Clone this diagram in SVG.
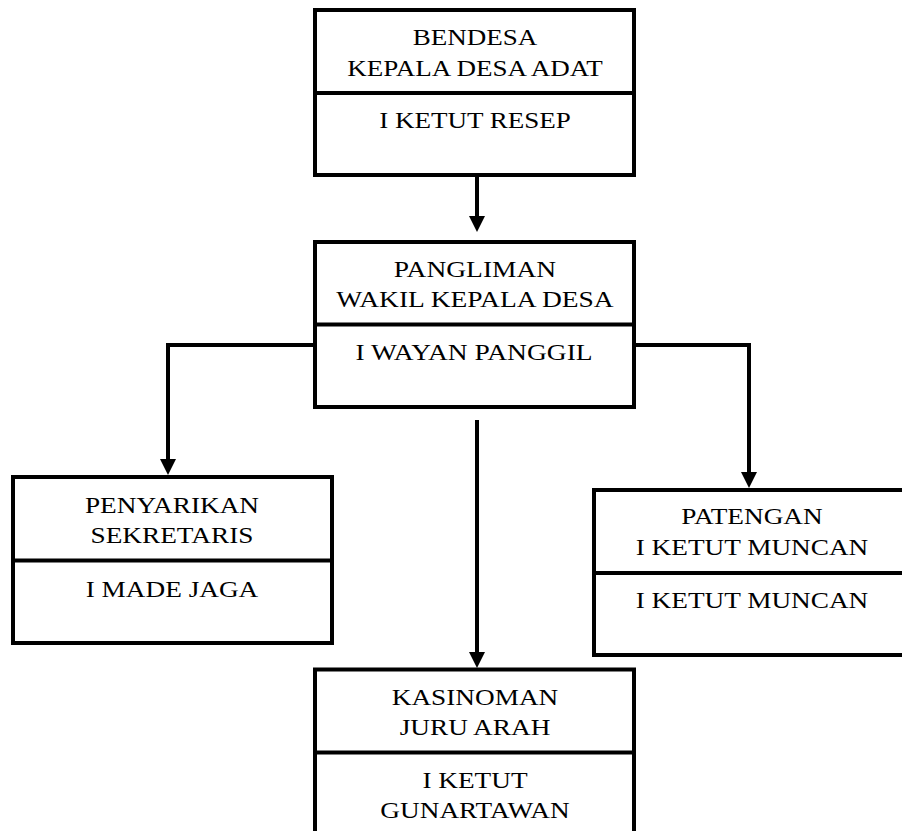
<svg xmlns="http://www.w3.org/2000/svg" width="902" height="831" viewBox="0 0 902 831">
<style>
.box{fill:#fff;stroke:#000;stroke-width:4}
.div{stroke:#000;stroke-width:4}
.t{font-family:"Liberation Serif","Times New Roman",serif;font-size:23.5px;fill:#000;text-anchor:middle}
.c{fill:none;stroke:#000;stroke-width:4}
</style>
<defs>
<marker id="ah" viewBox="0 0 16 16" refX="0" refY="8" markerWidth="16" markerHeight="16" markerUnits="userSpaceOnUse" orient="auto">
<path d="M0,0 L16,8 L0,16 z" fill="#000"/>
</marker>
</defs>
<rect width="902" height="831" fill="#fff"/>
<g id="connectors">
<path class="c" d="M477,176 V216" marker-end="url(#ah)"/>
<path class="c" d="M477,420 V652" marker-end="url(#ah)"/>
<path class="c" d="M315,345 H168 V459" marker-end="url(#ah)"/>
<path class="c" d="M634,345 H749 V472" marker-end="url(#ah)"/>
</g>
<g id="bendesa">
<rect class="box" x="315" y="10" width="319" height="165"/>
<line class="div" x1="315" y1="93" x2="634" y2="93"/>
<text class="t" transform="translate(475 45) scale(1.15 1)">BENDESA</text>
<text class="t" transform="translate(475 76) scale(1.15 1)">KEPALA DESA ADAT</text>
<text class="t" transform="translate(475 128) scale(1.15 1)">I KETUT RESEP</text>
</g>
<g id="pangliman">
<rect class="box" x="315" y="242" width="319" height="165"/>
<line class="div" x1="315" y1="324.5" x2="634" y2="324.5"/>
<text class="t" transform="translate(475 277) scale(1.17 1)">PANGLIMAN</text>
<text class="t" transform="translate(475 307) scale(1.17 1)">WAKIL KEPALA DESA</text>
<text class="t" transform="translate(474 360) scale(1.17 1)">I WAYAN PANGGIL</text>
</g>
<g id="penyarikan">
<rect class="box" x="13" y="477" width="319" height="166"/>
<line class="div" x1="13" y1="560.5" x2="332" y2="560.5"/>
<text class="t" transform="translate(172 513) scale(1.16 1)">PENYARIKAN</text>
<text class="t" transform="translate(172 543) scale(1.16 1)">SEKRETARIS</text>
<text class="t" transform="translate(172 597) scale(1.16 1)">I MADE JAGA</text>
</g>
<g id="patengan">
<rect class="box" x="594" y="490" width="318" height="165"/>
<line class="div" x1="594" y1="573" x2="912" y2="573"/>
<text class="t" transform="translate(752 524) scale(1.16 1)">PATENGAN</text>
<text class="t" transform="translate(752 555) scale(1.16 1)">I KETUT MUNCAN</text>
<text class="t" transform="translate(752 608) scale(1.16 1)">I KETUT MUNCAN</text>
</g>
<g id="kasinoman">
<rect class="box" x="315" y="669.5" width="319" height="180"/>
<line class="div" x1="315" y1="752.5" x2="634" y2="752.5"/>
<text class="t" transform="translate(475 705) scale(1.16 1)">KASINOMAN</text>
<text class="t" transform="translate(475 735) scale(1.16 1)">JURU ARAH</text>
<text class="t" transform="translate(475 788) scale(1.16 1)">I KETUT</text>
<text class="t" transform="translate(475 818) scale(1.16 1)">GUNARTAWAN</text>
</g>
</svg>
